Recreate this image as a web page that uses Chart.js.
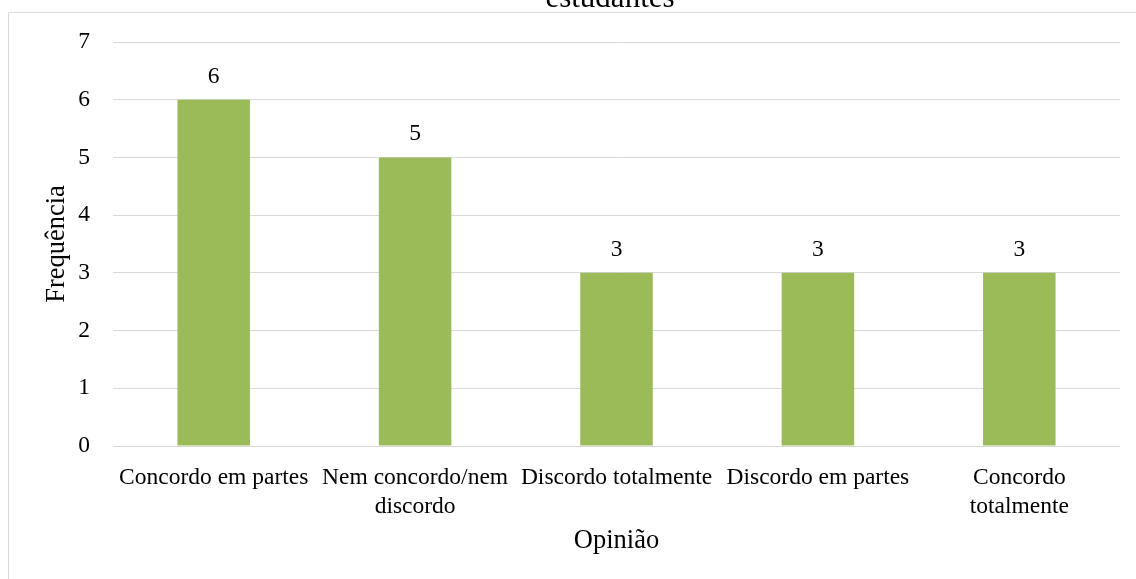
<!DOCTYPE html>
<html>
<head>
<meta charset="utf-8">
<script src="https://cdn.jsdelivr.net/npm/chart.js@4/dist/chart.umd.min.js"></script>
<style>
  html, body { margin: 0; padding: 0; background: #fff; overflow: hidden; }
  #wrap { width: 1136px; height: 579px; position: relative; }
</style>
</head>
<body>
<div id="wrap"><canvas id="chart" width="1136" height="579"></canvas></div>
<script>
const categories = [
  'Concordo em partes',
  ['Nem concordo/nem', 'discordo'],
  'Discordo totalmente',
  'Discordo em partes',
  ['Concordo', 'totalmente']
];
const frequencia = [6, 5, 3, 3, 3];
const titleText = 'estudantes';
const barColor = '#9bbb59';
const serif = '"Liberation Serif", "Times New Roman", serif';

// moldura da área do gráfico e título (cortado no topo)
const framePlugin = {
  id: 'frame',
  beforeDraw(chart) {
    const ctx = chart.ctx;
    ctx.save();
    ctx.strokeStyle = '#d9d9d9';
    ctx.lineWidth = 1;
    ctx.beginPath();
    ctx.moveTo(8.5, 579);
    ctx.lineTo(8.5, 12.5);
    ctx.lineTo(1136, 12.5);
    ctx.stroke();
    ctx.fillStyle = '#000';
    ctx.font = '31px ' + serif;
    ctx.textAlign = 'center';
    ctx.textBaseline = 'alphabetic';
    ctx.fillText(titleText, 610, 7);
    ctx.restore();
  }
};

// rótulos de valor acima das barras
const valueLabels = {
  id: 'valueLabels',
  afterDatasetsDraw(chart) {
    const ctx = chart.ctx;
    ctx.save();
    ctx.fillStyle = '#000';
    ctx.font = '23.5px ' + serif;
    ctx.textAlign = 'center';
    ctx.textBaseline = 'alphabetic';
    chart.getDatasetMeta(0).data.forEach((bar, i) => {
      ctx.fillText(String(frequencia[i]), bar.x, bar.y - 17);
    });
    ctx.restore();
  }
};

new Chart(document.getElementById('chart'), {
  type: 'bar',
  data: {
    labels: categories,
    datasets: [{
      label: 'Frequência',
      data: frequencia,
      backgroundColor: barColor,
      barPercentage: 0.36,
      categoryPercentage: 1
    }]
  },
  options: {
    responsive: false,
    animation: false,
    layout: { padding: { left: 0, top: 42, right: 16, bottom: 0 } },
    plugins: {
      legend: { display: false },
      tooltip: { enabled: false }
    },
    scales: {
      x: {
        grid: { display: false },
        border: { display: false },
        ticks: {
          color: '#000',
          font: { family: serif, size: 23.5, lineHeight: 1.23 },
          padding: 9,
          maxRotation: 0,
          autoSkip: false
        },
        title: {
          display: true,
          text: 'Opinião',
          color: '#000',
          font: { family: serif, size: 26.5 },
          padding: { top: 0, bottom: 22 }
        },
        afterFit(scale) { scale.height = 133; }
      },
      y: {
        min: 0,
        max: 7,
        grid: { color: '#d9d9d9', lineWidth: 1, drawTicks: false },
        border: { display: false },
        ticks: {
          stepSize: 1,
          color: '#000',
          font: { family: serif, size: 23.5 },
          padding: 23
        },
        title: {
          display: true,
          text: 'Frequência',
          color: '#000',
          font: { family: serif, size: 26.5 },
          padding: { top: 41, bottom: 0 }
        },
        afterFit(scale) { scale.width = 113; }
      }
    }
  },
  plugins: [framePlugin, valueLabels]
});
</script>
</body>
</html>
